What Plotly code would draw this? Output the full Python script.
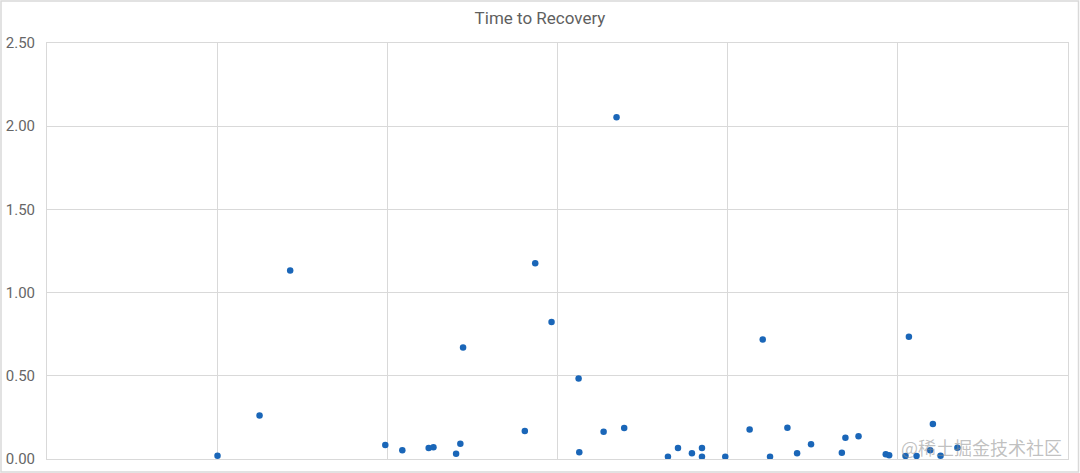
import plotly.graph_objects as go

# Data
x_vals = [1.002, 1.249, 1.429, 1.988, 2.088, 2.243, 2.271, 2.404, 2.429, 2.445,
          2.808, 2.869, 2.965, 3.124, 3.128, 3.271, 3.347, 3.392, 3.649, 3.708,
          3.790, 3.849, 3.849, 3.986, 4.129, 4.206, 4.249, 4.351, 4.408, 4.490,
          4.671, 4.692, 4.769, 4.929, 4.949, 5.045, 5.065, 5.110, 5.190, 5.206,
          5.251, 5.350]
recovery = [0.020, 0.262, 1.133, 0.084, 0.052, 0.066, 0.070, 0.032, 0.092, 0.670,
            0.168, 1.177, 0.823, 0.484, 0.040, 0.164, 2.054, 0.186, 0.014, 0.066,
            0.034, 0.066, 0.014, 0.014, 0.178, 0.718, 0.014, 0.188, 0.034, 0.088,
            0.038, 0.128, 0.136, 0.028, 0.022, 0.018, 0.735, 0.018, 0.052, 0.210,
            0.020, 0.068]
y_ticks = [0.0, 0.5, 1.0, 1.5, 2.0, 2.5]
y_tick_labels = ["0.00", "0.50", "1.00", "1.50", "2.00", "2.50"]
title_text = "Time to Recovery"
watermark = "@稀土掘金技术社区"

GRID = "#d9d9d9"
TEXT = "#5f5f5f"

fig = go.Figure(go.Scatter(
    x=x_vals, y=recovery, mode="markers",
    marker=dict(size=6.5, color="#1a66b8", line=dict(width=0)),
    showlegend=False, hoverinfo="x+y",
))

W, H = 1080, 473
ml, mr, mt, mb = 47, 12, 43, 14
pw, ph = W - ml - mr, H - mt - mb

def px_to_paper_x(px):
    return (px - ml) / pw

def py_to_paper_y(py):
    return (H - mb - py) / ph

fig.update_layout(
    width=W, height=H,
    margin=dict(l=ml, r=mr, t=mt, b=mb, autoexpand=False),
    paper_bgcolor="white", plot_bgcolor="white",
    font=dict(family="Roboto, Arial, sans-serif", color=TEXT),
    title=dict(text=title_text, x=0.5, xref="container", xanchor="center",
               y=1 - 18 / H, yref="container", yanchor="middle",
               font=dict(size=17, color=TEXT, family="Roboto, Arial, sans-serif"),
               automargin=False),
    xaxis=dict(range=[0, 6], dtick=1, tick0=0, showgrid=True, gridcolor=GRID,
               gridwidth=1, showticklabels=False, zeroline=False,
               showline=True, mirror=True, linecolor=GRID, linewidth=1,
               fixedrange=True, automargin=False),
    yaxis=dict(range=[0, 2.5], tickvals=y_ticks, ticktext=y_tick_labels,
               showgrid=True, gridcolor=GRID, gridwidth=1, zeroline=False,
               showline=True, mirror=True, linecolor=GRID, linewidth=1,
               tickfont=dict(size=15, color="#666666"), ticklabelstandoff=8,
               fixedrange=True, automargin=False),
    shapes=[dict(type="rect", xref="paper", yref="paper",
                 x0=px_to_paper_x(1), x1=px_to_paper_x(1078.5),
                 y0=py_to_paper_y(472), y1=py_to_paper_y(1),
                 line=dict(color="#d9d9d9", width=1.5), fillcolor="rgba(0,0,0,0)",
                 layer="below")],
    annotations=[dict(text=watermark, xref="paper", yref="paper",
                      x=px_to_paper_x(1064), y=py_to_paper_y(447),
                      xanchor="right", yanchor="middle", showarrow=False,
                      font=dict(size=18, color="rgba(140,140,140,0.55)",
                                family="Noto Sans CJK SC"))],
)

fig.write_html(
    "out.html",
    config={"displayModeBar": False},
    post_script="document.body.style.margin='0';document.body.style.overflow='hidden';",
)
